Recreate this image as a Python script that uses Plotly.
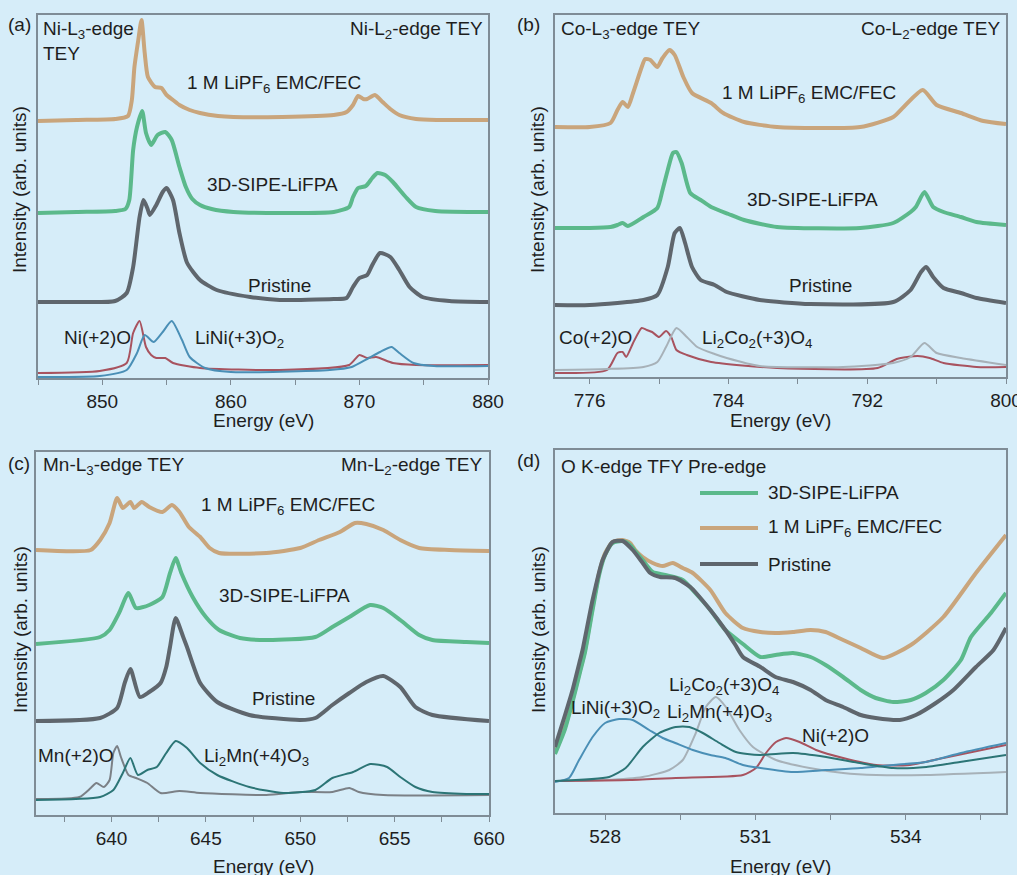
import plotly.graph_objects as go
from plotly.subplots import make_subplots

# ---------------- Panel (a) Ni L-edge ----------------
a_tan_E = [845, 848, 851, 852.0, 852.3, 852.5, 852.8, 853.05, 853.3, 853.55, 854.1, 854.6, 855.0, 855.5, 856.0, 856.8, 857.6, 859, 860.2, 864, 868, 869, 869.5, 869.9, 870.3, 870.6, 871.2, 871.8, 872.4, 873.1, 874.4, 876, 880]
a_tan_I = [257, 258, 259, 262, 278, 311, 338, 358, 325, 301, 291, 290, 283, 278, 273, 268, 265, 262, 261, 261, 263, 266, 273, 282, 279, 279, 283, 276, 269, 263, 259, 258, 258]
a_grn_E = [845, 848, 851, 851.8, 852.1, 852.4, 852.7, 853.1, 853.4, 853.8, 854.3, 854.9, 855.4, 856.0, 856.5, 857.0, 857.6, 858.5, 860.2, 864, 868, 869.2, 869.5, 869.9, 870.5, 871.0, 871.4, 872.0, 872.6, 873.6, 874.4, 875.9, 880]
a_grn_I = [165, 166, 167, 169, 178, 228, 251, 267, 245, 233, 243, 246, 238, 211, 191, 179, 173, 169, 166, 165, 166, 171, 181, 190, 192, 200, 205, 203, 196, 181, 171, 167, 166]
a_gry_E = [845, 848, 851, 851.9, 852.4, 852.9, 853.2, 853.5, 853.7, 854.2, 854.7, 855.0, 855.5, 856.0, 856.6, 857.6, 858.9, 861.5, 863.8, 868, 869.0, 869.5, 870.0, 870.6, 871.0, 871.6, 872.4, 873.1, 873.9, 874.9, 877, 880]
a_gry_I = [76, 76, 77, 85, 111, 161, 178, 170, 163, 173, 186, 190, 178, 145, 115, 98, 88, 81, 78, 79, 80, 91, 100, 103, 113, 125, 121, 108, 91, 81, 77, 76]
a_red_E = [845, 849.8, 851.9, 852.4, 852.9, 853.4, 853.8, 854.2, 854.6, 854.9, 855.5, 857.6, 863.8, 869.2, 870.0, 870.6, 871.3, 872.6, 874.4, 880]
a_red_I = [5, 7, 15, 45, 57, 31, 23, 20, 20, 20, 15, 10, 8, 13, 23, 20, 21, 15, 13, 13]
a_blu_E = [845, 849.8, 851.9, 852.7, 853.3, 854.0, 854.7, 855.4, 856.2, 856.8, 858.0, 860, 867.7, 869.4, 870.6, 871.6, 872.5, 873.1, 874.2, 875.8, 880]
a_blu_I = [1, 2, 8, 25, 43, 36, 46, 57, 38, 21, 10, 6, 8, 11, 19, 26, 31, 25, 15, 12, 12]

# ---------------- Panel (b) Co L-edge ----------------
b_tan_E = [774, 776, 777.2, 777.6, 777.9, 778.2, 778.5, 779.0, 779.2, 779.5, 779.9, 780.2, 780.6, 780.9, 781.4, 781.9, 783.0, 783.7, 784.9, 786.8, 791.6, 793.5, 794.1, 795.2, 796.0, 797.4, 798.7, 800]
b_tan_I = [250, 250, 254, 267, 275, 270, 284, 310, 318, 317, 310, 319, 327, 322, 300, 284, 274, 264, 255, 250, 250, 260, 270, 287, 272, 264, 256, 253]
b_grn_E = [774, 776, 777.2, 777.6, 777.9, 778.2, 779.1, 779.9, 780.2, 780.5, 780.8, 781.0, 781.3, 781.8, 782.4, 783.0, 784.0, 784.9, 786.8, 791.6, 793.5, 794.5, 794.8, 795.3, 795.8, 796.4, 797.4, 798.3, 800]
b_grn_I = [149, 149, 150, 152, 154, 151, 160, 169, 187, 207, 224, 225, 214, 184, 177, 170, 163, 157, 150, 149, 154, 165, 170, 185, 170, 165, 160, 155, 152]
b_gry_E = [774, 776, 779.1, 779.9, 780.5, 780.9, 781.2, 781.5, 781.9, 782.4, 783.2, 783.9, 785.8, 788.7, 793.5, 794.5, 795.1, 795.4, 795.8, 796.4, 797.4, 798.3, 800]
b_gry_I = [72, 72, 77, 82, 110, 144, 149, 134, 110, 97, 92, 85, 77, 73, 75, 87, 105, 110, 100, 89, 84, 79, 74]
b_red_E = [774, 777.0, 777.6, 777.9, 778.1, 778.5, 779.0, 779.3, 779.6, 780.0, 780.4, 780.7, 781.0, 781.6, 783.0, 786.8, 792.6, 793.7, 794.9, 795.6, 796.4, 798.3, 800]
b_red_I = [4, 7, 24, 25, 20, 34, 49, 47, 45, 40, 46, 40, 27, 22, 15, 9, 9, 18, 21, 19, 14, 10, 10]
b_lgr_E = [774, 777, 779.1, 779.9, 780.4, 781.0, 781.6, 782.2, 783.2, 783.9, 785.8, 790.6, 793.5, 794.5, 795.3, 796.0, 797.4, 800]
b_lgr_I = [7, 8, 10, 15, 30, 49, 40, 30, 23, 19, 11, 10, 14, 20, 34, 24, 19, 12]

# ---------------- Panel (c) Mn L-edge ----------------
c_tan_E = [636, 638.9, 639.4, 639.9, 640.3, 640.6, 641.0, 641.2, 641.6, 642.0, 642.7, 643.2, 643.6, 644.1, 644.7, 645.2, 645.7, 648.2, 650.0, 651.0, 652.1, 652.9, 653.5, 654.4, 655.3, 656.3, 657.9, 660]
c_tan_I = [265, 265, 275, 292, 317, 307, 313, 307, 313, 308, 303, 310, 303, 288, 278, 267, 262, 262, 267, 275, 283, 292, 291, 285, 275, 267, 265, 264]
c_grn_E = [636, 639.4, 639.9, 640.4, 640.9, 641.3, 642.0, 642.7, 643.1, 643.4, 643.7, 644.3, 645.0, 645.7, 646.8, 648.2, 650.8, 651.7, 652.6, 653.7, 654.4, 655.3, 656.3, 657.0, 658.8, 660]
c_grn_I = [171, 178, 185, 202, 222, 207, 210, 218, 242, 257, 242, 218, 198, 185, 177, 175, 178, 188, 198, 210, 207, 195, 180, 175, 173, 172]
c_gry_E = [636, 639.4, 640.3, 640.7, 641.0, 641.5, 642.0, 642.6, 642.9, 643.1, 643.4, 643.8, 644.0, 644.7, 645.6, 647.3, 650.0, 650.8, 651.7, 652.6, 653.5, 654.4, 655.3, 656.1, 657.0, 660]
c_gry_I = [94, 97, 107, 132, 146, 118, 123, 132, 148, 168, 197, 178, 168, 132, 113, 100, 95, 97, 110, 122, 133, 139, 128, 108, 100, 94]
c_mn2_E = [636, 638.3, 638.9, 639.2, 639.6, 639.9, 640.1, 640.3, 640.5, 640.9, 641.3, 641.9, 642.6, 643.6, 644.7, 648.2, 650.0, 651.7, 652.6, 653.1, 654.4, 660]
c_mn2_I = [16, 18, 27, 32, 28, 35, 62, 69, 58, 40, 37, 32, 22, 24, 22, 20, 23, 23, 27, 23, 20, 20]
c_mn4_E = [636, 639.4, 640.1, 640.6, 641.0, 641.4, 641.9, 642.4, 642.9, 643.4, 644.0, 644.7, 645.6, 647.3, 649.1, 650.8, 651.7, 652.8, 653.7, 654.6, 655.3, 656.1, 657.0, 658.8, 660]
c_mn4_I = [15, 18, 25, 42, 57, 40, 45, 48, 62, 74, 67, 52, 40, 28, 22, 25, 37, 43, 51, 48, 38, 28, 23, 21, 21]

# ---------------- Panel (d) O K-edge ----------------
d_tan_E = [527.0, 527.2, 527.35, 527.5, 527.6, 527.75, 527.88, 528.0, 528.15, 528.35, 528.5, 528.6, 528.75, 528.95, 529.15, 529.35, 529.55, 529.75, 530.1, 530.4, 530.75, 531.1, 531.4, 531.75, 532.1, 532.4, 532.75, 533.1, 533.55, 534.1, 534.75, 535.4, 536]
d_tan_I = [61, 86, 113, 143, 163, 206, 240, 260, 271, 273, 270, 263, 256, 250, 247, 250, 245, 240, 223, 200, 185, 181, 180, 181, 183, 181, 173, 165, 155, 168, 196, 240, 278]
d_grn_E = [527.0, 527.2, 527.35, 527.5, 527.6, 527.75, 527.88, 528.0, 528.15, 528.35, 528.5, 528.6, 528.75, 528.95, 529.2, 529.55, 529.8, 530.1, 530.4, 530.75, 531.1, 531.4, 531.75, 532.1, 532.4, 532.75, 533.1, 533.4, 533.75, 534.1, 534.4, 534.75, 535.1, 535.3, 535.7, 536]
d_grn_I = [59, 84, 111, 141, 161, 203, 238, 258, 270, 272, 268, 262, 253, 241, 238, 233, 220, 203, 183, 169, 156, 158, 160, 156, 148, 136, 123, 115, 111, 113, 120, 133, 153, 176, 200, 220]
d_gry_E = [527.0, 527.2, 527.35, 527.5, 527.55, 527.75, 527.95, 528.15, 528.35, 528.55, 528.75, 528.9, 529.1, 529.4, 529.7, 530.1, 530.4, 530.6, 530.75, 531.1, 531.4, 531.75, 532.1, 532.4, 532.75, 533.1, 533.4, 533.88, 534.2, 534.6, 534.95, 535.4, 535.75, 536]
d_gry_I = [66, 98, 123, 153, 163, 213, 253, 271, 272, 263, 250, 240, 236, 235, 226, 203, 183, 168, 156, 146, 136, 131, 123, 113, 106, 98, 95, 93, 98, 110, 123, 146, 163, 185]
d_lni_E = [527.0, 527.28, 527.48, 527.75, 528.0, 528.28, 528.55, 528.88, 529.15, 529.4, 529.75, 530.1, 530.4, 530.75, 531.1, 531.75, 532.4, 533.1, 533.75, 534.4, 535.1, 536]
d_lni_I = [31, 35, 53, 76, 90, 94, 93, 83, 75, 70, 63, 58, 55, 48, 45, 41, 43, 45, 48, 51, 60, 70]
d_lmn_E = [527.0, 528.08, 528.41, 528.75, 529.08, 529.41, 529.68, 529.95, 530.28, 530.61, 531.08, 531.75, 532.41, 533.08, 533.75, 534.41, 535.08, 536]
d_lmn_I = [32, 36, 45, 66, 80, 86, 86, 80, 70, 61, 58, 60, 56, 50, 45, 46, 51, 58]
d_lco_E = [527.0, 528.0, 528.75, 529.28, 529.55, 529.81, 530.01, 530.21, 530.41, 530.68, 530.95, 531.41, 532.08, 532.75, 533.41, 534.41, 536]
d_lco_I = [32, 33, 36, 43, 53, 80, 106, 116, 106, 83, 66, 53, 45, 40, 38, 38, 41]
d_nio_E = [527.0, 528.5, 529.41, 530.75, 531.01, 531.21, 531.41, 531.61, 531.88, 532.21, 532.75, 533.41, 534.08, 534.75, 536]
d_nio_I = [32, 33, 35, 38, 45, 60, 71, 75, 71, 63, 55, 48, 48, 55, 68]

# ---------------- styles ----------------
BG = '#d6edf9'
FRAME = '#7f8c96'
TAN = '#c9a57c'
GRN = '#5bb98b'
GRY = '#5f666d'
RED = '#a8535f'
BLU = '#4a8fb6'
TEAL = '#2c7576'
MGRY = '#7b8086'
LGRY = '#a7b1b8'
TXT = '#1e1e1e'
FONT = 'Liberation Sans, Arial, sans-serif'
FS = 19
W, H = 1017, 875          # target picture size
WL = 1033                 # layout width (the page is photographed ~1.6 % narrower)

fig = make_subplots(rows=2, cols=2)


def add(row, col, x, y, color, width):
    fig.add_trace(go.Scatter(x=x, y=y, mode='lines', showlegend=False, hoverinfo='skip',
                             line=dict(color=color, width=width, shape='spline', smoothing=0.6)),
                  row=row, col=col)


# panel a
add(1, 1, a_red_E, a_red_I, RED, 2)
add(1, 1, a_blu_E, a_blu_I, BLU, 2)
add(1, 1, a_tan_E, a_tan_I, TAN, 4)
add(1, 1, a_grn_E, a_grn_I, GRN, 4)
add(1, 1, a_gry_E, a_gry_I, GRY, 4)
# panel b
add(1, 2, b_red_E, b_red_I, RED, 2)
add(1, 2, b_lgr_E, b_lgr_I, LGRY, 2)
add(1, 2, b_tan_E, b_tan_I, TAN, 4)
add(1, 2, b_grn_E, b_grn_I, GRN, 4)
add(1, 2, b_gry_E, b_gry_I, GRY, 4)
# panel c
add(2, 1, c_mn2_E, c_mn2_I, MGRY, 2)
add(2, 1, c_mn4_E, c_mn4_I, TEAL, 2)
add(2, 1, c_tan_E, c_tan_I, TAN, 4)
add(2, 1, c_grn_E, c_grn_I, GRN, 4)
add(2, 1, c_gry_E, c_gry_I, GRY, 4)
# panel d
add(2, 2, d_lco_E, d_lco_I, LGRY, 2)
add(2, 2, d_nio_E, d_nio_I, RED, 2)
add(2, 2, d_lni_E, d_lni_I, BLU, 2)
add(2, 2, d_lmn_E, d_lmn_I, TEAL, 2)
add(2, 2, d_tan_E, d_tan_I, TAN, 4)
add(2, 2, d_grn_E, d_grn_I, GRN, 4)
add(2, 2, d_gry_E, d_gry_I, GRY, 4)


def xax(dom, rng, dtick, tick0, minor):
    return dict(domain=dom, range=rng, dtick=dtick, tick0=tick0, showline=True, mirror=True,
                linecolor=FRAME, linewidth=1.5, showgrid=False, zeroline=False,
                ticks='outside', ticklen=5, tickcolor=FRAME, tickwidth=1.2,
                tickfont=dict(size=FS, color=TXT, family=FONT),
                minor=dict(ticks='outside', ticklen=5, dtick=minor, tick0=tick0, tickcolor=FRAME, tickwidth=1.2))


def yax(dom, top):
    return dict(domain=dom, range=[0, top], showline=True, mirror=True, linecolor=FRAME,
                linewidth=1.5, showgrid=False, zeroline=False, showticklabels=False, ticks='')


def dom_x(l, r):
    return [l / W, r / W]


def dom_y(t, b):
    return [1 - b / H, 1 - t / H]


fig.update_layout(
    width=WL, height=H, autosize=False, margin=dict(l=0, r=0, t=0, b=0),
    paper_bgcolor=BG, plot_bgcolor=BG,
    font=dict(family=FONT, size=FS, color=TXT),
    xaxis=xax(dom_x(38, 488), [845, 880], 10, 850, 5),
    yaxis=yax(dom_y(15, 378), 363),
    xaxis2=xax(dom_x(555, 1006), [774, 800], 8, 776, 4),
    yaxis2=yax(dom_y(15, 377), 362),
    xaxis3=xax(dom_x(36, 489), [636, 660], 5, 640, 2.5),
    yaxis3=yax(dom_y(452, 815), 363),
    xaxis4=xax(dom_x(555, 1006), [527, 536], 3, 528, 1.5),
    yaxis4=yax(dom_y(450, 813), 363),
)


def txt(x, y, s, anchor='left', size=FS, angle=0):
    fig.add_annotation(x=x / W, y=1 - y / H, xref='paper', yref='paper', text=s, showarrow=False,
                       xanchor=anchor, yanchor='middle', textangle=angle,
                       font=dict(size=size, color=TXT, family=FONT))


LIPF = '1 M LiPF<sub>6</sub> EMC/FEC'
# panel a texts
txt(6, 24, '(a)')
txt(41, 30, 'Ni-L<sub>3</sub>-edge')
txt(41, 53, 'TEY')
txt(485, 30, 'Ni-L<sub>2</sub>-edge TEY', 'right')
txt(185, 84, LIPF)
txt(205, 184, '3D-SIPE-LiFPA')
txt(246, 285, 'Pristine')
txt(62, 337, 'Ni(+2)O')
txt(193, 339, 'LiNi(+3)O<sub>2</sub>')
txt(263, 420, 'Energy (eV)', 'center')
txt(20, 190, 'Intensity (arb. units)', 'center', angle=-90)
# panel b texts
txt(515, 24, '(b)')
txt(559, 30, 'Co-L<sub>3</sub>-edge TEY')
txt(1002, 30, 'Co-L<sub>2</sub>-edge TEY', 'right')
txt(720, 94, LIPF)
txt(745, 200, '3D-SIPE-LiFPA')
txt(787, 285, 'Pristine')
txt(557, 337, 'Co(+2)O')
txt(700, 339, 'Li<sub>2</sub>Co<sub>2</sub>(+3)O<sub>4</sub>')
txt(780, 420, 'Energy (eV)', 'center')
txt(538, 190, 'Intensity (arb. units)', 'center', angle=-90)
# panel c texts
txt(6, 463, '(c)')
txt(41, 466, 'Mn-L<sub>3</sub>-edge TEY')
txt(485, 466, 'Mn-L<sub>2</sub>-edge TEY', 'right')
txt(199, 506, LIPF)
txt(217, 595, '3D-SIPE-LiFPA')
txt(250, 698, 'Pristine')
txt(36, 755, 'Mn(+2)O')
txt(202, 757, 'Li<sub>2</sub>Mn(+4)O<sub>3</sub>')
txt(263, 866, 'Energy (eV)', 'center')
txt(20, 630, 'Intensity (arb. units)', 'center', angle=-90)
# panel d texts
txt(515, 461, '(d)')
txt(559, 466, 'O K-edge TFY Pre-edge')
txt(569, 709, 'LiNi(+3)O<sub>2</sub>')
txt(667, 686, 'Li<sub>2</sub>Co<sub>2</sub>(+3)O<sub>4</sub>')
txt(665, 713, 'Li<sub>2</sub>Mn(+4)O<sub>3</sub>')
txt(800, 735, 'Ni(+2)O')
txt(780, 866, 'Energy (eV)', 'center')
txt(538, 630, 'Intensity (arb. units)', 'center', angle=-90)

# legend of panel d
leg_names = ['3D-SIPE-LiFPA', LIPF, 'Pristine']
leg_colors = [GRN, TAN, GRY]
leg_rows = [493, 528, 564]
for name, colr, yy in zip(leg_names, leg_colors, leg_rows):
    fig.add_shape(type='line', xref='paper', yref='paper', x0=700 / W, x1=758 / W,
                  y0=1 - yy / H, y1=1 - yy / H, line=dict(color=colr, width=4))
    txt(766, yy, name)

post = """
(function(){
  var de = document.documentElement, b = document.body;
  de.style.margin = '0'; de.style.background = '%s';
  b.style.margin = '0'; b.style.overflow = 'hidden'; b.style.background = '%s';
})();
""" % (BG, BG)
fig.write_html('out.html', config={'displayModeBar': False}, post_script=post)
